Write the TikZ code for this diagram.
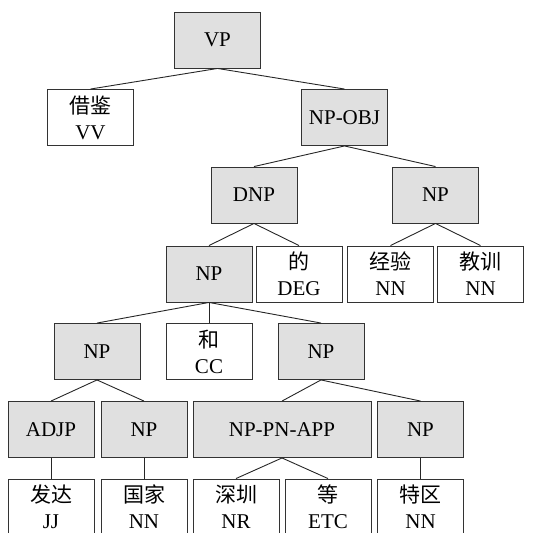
\documentclass[tikz,border=0pt]{standalone}
\usepackage{fontspec}
\setmainfont{Liberation Serif}
\newfontfamily\cjk{Noto Sans CJK SC}
\begin{document}
\begin{tikzpicture}[x=1pt,y=-1pt,
  box/.style={draw=black!80, line width=0.9pt, minimum width=86pt, minimum height=56pt, inner sep=0pt, align=center, font=\fontsize{21}{26}\selectfont},
  phrase/.style={box, fill=black!12},
  word/.style={box, fill=white},
  edge/.style={draw=black!85, line width=0.9pt}]
\useasboundingbox (0,0) rectangle (553,532);
\begin{scope}
\clip (0,0) rectangle (553,532);
\node[phrase] (vp) at (217.5,40) {VP};
\node[word] (jj) at (90.5,117.5) {{\cjk 借鉴}\\VV};
\node[phrase] (npobj) at (344.5,117.5) {NP-OBJ};
\node[phrase] (dnp) at (254,195) {DNP};
\node[phrase] (np1) at (435.5,195) {NP};
\node[phrase] (np2) at (209,274) {NP};
\node[word] (de) at (299,274) {{\cjk 的}\\DEG};
\node[word] (jy) at (390.5,274) {{\cjk 经验}\\NN};
\node[word] (jx) at (480.5,274) {{\cjk 教训}\\NN};
\node[phrase] (np3) at (97,351.5) {NP};
\node[word] (he) at (209,351.5) {{\cjk 和}\\CC};
\node[phrase] (np4) at (321,351.5) {NP};
\node[phrase] (adjp) at (51,429.5) {ADJP};
\node[phrase] (np5) at (144,429.5) {NP};
\node[phrase, minimum width=178pt] (nppn) at (282,429.5) {NP-PN-APP};
\node[phrase] (np6) at (420.5,429.5) {NP};
\node[word] (fd) at (51,507) {{\cjk 发达}\\JJ};
\node[word] (gj) at (144,507) {{\cjk 国家}\\NN};
\node[word] (sz) at (236,507) {{\cjk 深圳}\\NR};
\node[word] (deng) at (328,507) {{\cjk 等}\\ETC};
\node[word] (tq) at (420.5,507) {{\cjk 特区}\\NN};
\draw[edge] (vp.south) -- (jj.north);
\draw[edge] (vp.south) -- (npobj.north);
\draw[edge] (npobj.south) -- (dnp.north);
\draw[edge] (npobj.south) -- (np1.north);
\draw[edge] (dnp.south) -- (np2.north);
\draw[edge] (dnp.south) -- (de.north);
\draw[edge] (np1.south) -- (jy.north);
\draw[edge] (np1.south) -- (jx.north);
\draw[edge] (np2.south) -- (np3.north);
\draw[edge] (np2.south) -- (he.north);
\draw[edge] (np2.south) -- (np4.north);
\draw[edge] (np3.south) -- (adjp.north);
\draw[edge] (np3.south) -- (np5.north);
\draw[edge] (np4.south) -- (nppn.north);
\draw[edge] (np4.south) -- (np6.north);
\draw[edge] (adjp.south) -- (fd.north);
\draw[edge] (np5.south) -- (gj.north);
\draw[edge] (nppn.south) -- (sz.north);
\draw[edge] (nppn.south) -- (deng.north);
\draw[edge] (np6.south) -- (tq.north);
\end{scope}
\end{tikzpicture}
\end{document}
